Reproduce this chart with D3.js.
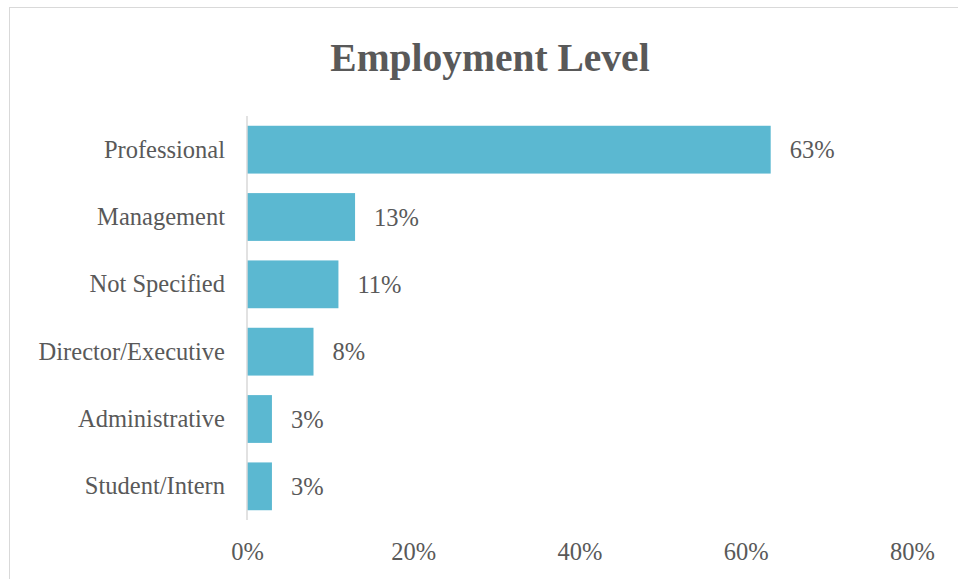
<!DOCTYPE html>
<html>
<head>
<meta charset="utf-8">
<script src="https://cdn.jsdelivr.net/npm/d3@7"></script>
<style>
  html, body { margin: 0; padding: 0; background: #fff; }
</style>
</head>
<body>
<div id="chart"></div>
<script>
// Employment Level - horizontal bar chart
const categories = ['Professional', 'Management', 'Not Specified', 'Director/Executive', 'Administrative', 'Student/Intern'];
const values = [63, 13, 11, 8, 3, 3];
const tickValues = [0, 20, 40, 60, 80];

const width = 958;
const height = 579;
const font = '"Liberation Serif", "DejaVu Serif", serif';
const textColor = '#595959';
const barColor = '#5bb8d1';

const margin = { left: 247, right: 46, top: 116, bottom: 59 };

const svg = d3.select('#chart')
  .append('svg')
  .attr('width', width)
  .attr('height', height)
  .style('display', 'block');

// Chart border
svg.append('rect')
  .attr('x', 9.5)
  .attr('y', 7.5)
  .attr('width', 960)
  .attr('height', 600)
  .attr('fill', 'none')
  .attr('stroke', '#d9d9d9')
  .attr('stroke-width', 1);

// Title
svg.append('text')
  .attr('x', 490)
  .attr('y', 71)
  .attr('text-anchor', 'middle')
  .attr('fill', textColor)
  .attr('font-family', font)
  .attr('font-size', '39.5px')
  .attr('font-weight', 'bold')
  .text('Employment Level');

const x = d3.scaleLinear()
  .domain([0, 80])
  .range([margin.left, width - margin.right]);

const y = d3.scaleBand()
  .domain(categories)
  .range([margin.top, height - margin.bottom])
  .paddingInner(0.29)
  .paddingOuter(0.145);

// Bars
svg.append('g')
  .selectAll('rect')
  .data(categories)
  .join('rect')
  .attr('x', x(0))
  .attr('y', d => y(d))
  .attr('width', (d, i) => x(values[i]) - x(0))
  .attr('height', y.bandwidth())
  .attr('fill', barColor);

// Vertical axis line
svg.append('line')
  .attr('x1', x(0))
  .attr('x2', x(0))
  .attr('y1', margin.top)
  .attr('y2', height - margin.bottom)
  .attr('stroke', '#d9d9d9')
  .attr('stroke-width', 1.5);

// Category labels
const yAxis = svg.append('g')
  .attr('transform', `translate(${x(0) - 2},0)`)
  .call(d3.axisLeft(y).tickSize(0).tickPadding(20));
yAxis.select('.domain').remove();
yAxis.selectAll('text')
  .attr('fill', textColor)
  .attr('font-family', font)
  .attr('font-size', '24.5px');

// Value labels
svg.append('g')
  .selectAll('text')
  .data(categories)
  .join('text')
  .attr('x', (d, i) => x(values[i]) + 19)
  .attr('y', d => y(d) + y.bandwidth() / 2)
  .attr('dy', '0.35em')
  .attr('fill', textColor)
  .attr('font-family', font)
  .attr('font-size', '24.5px')
  .text((d, i) => values[i] + '%');

// X axis tick labels
const xAxis = svg.append('g')
  .attr('transform', `translate(0,${height - margin.bottom})`)
  .call(d3.axisBottom(x).tickValues(tickValues).tickSize(0).tickPadding(23).tickFormat(d => d + '%'));
xAxis.select('.domain').remove();
xAxis.selectAll('text')
  .attr('fill', textColor)
  .attr('font-family', font)
  .attr('font-size', '24.5px');
</script>
</body>
</html>
